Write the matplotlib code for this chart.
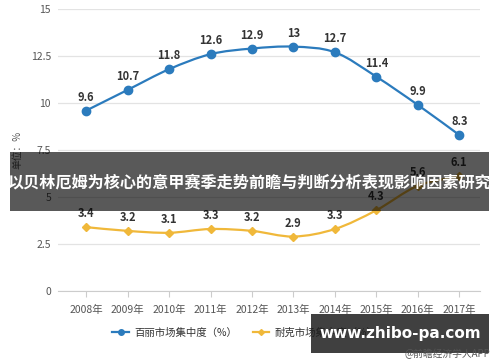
import numpy as np
import matplotlib
matplotlib.use("Agg")
import matplotlib.pyplot as plt
from matplotlib.path import Path
from matplotlib.patches import PathPatch, Rectangle
from matplotlib.lines import Line2D

plt.rcParams['font.family'] = ['Noto Sans CJK SC', 'DejaVu Sans']

years = ['2008年', '2009年', '2010年', '2011年', '2012年',
         '2013年', '2014年', '2015年', '2016年', '2017年']
belle = [9.6, 10.7, 11.8, 12.6, 12.9, 13, 12.7, 11.4, 9.9, 8.3]
nike = [3.4, 3.2, 3.1, 3.3, 3.2, 2.9, 3.3, 4.3, 5.6, 6.1]
belle_name = '百丽市场集中度（%）'
nike_name = '耐克市场集中度（%）'
title = '以贝林厄姆为核心的意甲赛季走势前瞻与判断分析表现影响因素研究'

BLUE = '#2b7bbd'
GOLD = '#f0b83a'


def smooth_path(xs, ys):
    # catmull-rom style bezier through the points
    pts = np.column_stack([xs, ys]).astype(float)
    n = len(pts)
    verts = [pts[0]]
    codes = [Path.MOVETO]
    for i in range(n - 1):
        p0 = pts[max(i - 1, 0)]
        p1 = pts[i]
        p2 = pts[i + 1]
        p3 = pts[min(i + 2, n - 1)]
        verts += [p1 + (p2 - p0) / 6, p2 - (p3 - p1) / 6, p2]
        codes += [Path.CURVE4] * 3
    return Path(verts, codes)


fig = plt.figure(figsize=(5, 3.62), dpi=100)
ax = fig.add_axes([0.116, 0.196, 0.844, 0.779])
x = np.arange(len(years))

for vals, col, mk, ms in [(belle, BLUE, 'o', 6), (nike, GOLD, 'D', 4)]:
    ax.add_patch(PathPatch(smooth_path(x, vals), fill=False, edgecolor=col, lw=1.6, zorder=3))
    ax.plot(x, vals, ls='none', marker=mk, ms=ms, color=col, zorder=4)
    for xi, v in zip(x, vals):
        ax.annotate(f'{v:g}', (xi, v), xytext=(0, 5), textcoords='offset points',
                    ha='center', va='bottom', fontsize=8, fontweight='bold', color='#333333')

ax.set_xlim(-0.68, 9.5)
ax.set_ylim(0, 15)
ax.set_yticks([0, 2.5, 5, 7.5, 10, 12.5, 15])
ax.set_yticklabels(['0', '2.5', '5', '7.5', '10', '12.5', '15'])
ax.set_xticks(x)
ax.set_xticklabels(years)
ax.grid(axis='y', color='#e3e3e3', lw=0.9)
ax.set_axisbelow(True)
for s in ['top', 'right', 'left']:
    ax.spines[s].set_visible(False)
ax.spines['bottom'].set_color('#cccccc')
ax.tick_params(axis='y', length=0, labelsize=7.5, labelcolor='#555555', pad=5)
ax.tick_params(axis='x', length=4, color='#cccccc', labelsize=7.5, labelcolor='#555555', pad=6)
ax.set_ylabel('单位：%', fontsize=7, color='#555555', labelpad=6)

handles = [Line2D([], [], color=BLUE, marker='o', ms=4, lw=1.6),
           Line2D([], [], color=GOLD, marker='D', ms=3, lw=1.6)]
fig.legend(handles, [belle_name, nike_name], loc='center', bbox_to_anchor=(0.49, 0.08),
           ncol=2, frameon=False, fontsize=7.5, handlelength=1.6, columnspacing=1.5,
           handletextpad=0.5, labelcolor='#333333')

# overlay bands
fig.patches.append(Rectangle((0.02, 0.417), 0.958, 0.163, transform=fig.transFigure,
                             facecolor='black', alpha=0.65, edgecolor='none', zorder=10))
fig.text(0.5, 0.497, title, ha='center', va='center', color='white', fontsize=11.6,
         fontweight='bold', zorder=11)

fig.patches.append(Rectangle((0.622, 0.025), 0.356, 0.108, transform=fig.transFigure,
                             facecolor='#1e1e1e', alpha=0.85, edgecolor='none', zorder=10))
fig.text(0.8, 0.08, 'www.zhibo-pa.com', ha='center', va='center', color='white',
         fontsize=11, fontweight='bold', family='DejaVu Sans', zorder=11)
fig.text(0.98, 0.022, '@前瞻经济学人APP', ha='right', va='center', color='#555555',
         fontsize=7, zorder=12)

fig.savefig('out.png', dpi=100)
